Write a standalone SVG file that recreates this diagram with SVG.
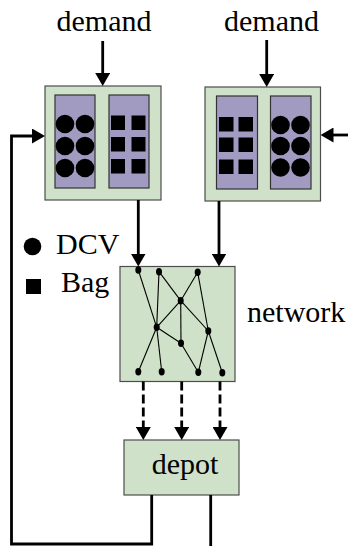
<svg xmlns="http://www.w3.org/2000/svg" width="348" height="546" viewBox="0 0 348 546">
<defs>
<marker id="ah" viewBox="0 0 13 15" refX="6" refY="7.5" markerWidth="13" markerHeight="15" markerUnits="userSpaceOnUse" orient="auto">
<path d="M0,0 L13,7.5 L0,15 z" fill="#000"/>
</marker>
</defs>
<style>
.box{fill:#d0e1c9;stroke:#4d4d4d;stroke-width:1.2}
.bin{fill:#a29bc1;stroke:#333;stroke-width:1.2}
.conn{fill:none;stroke:#000;stroke-width:2.8}
.dash{fill:none;stroke:#000;stroke-width:2.8;stroke-dasharray:9 4}
.edge{stroke:#000;stroke-width:1.1}
.lbl{font-family:"Liberation Serif","Times New Roman",serif;font-size:30px;fill:#000}
</style>
<g id="warehouse-left">
<rect class="box" x="45" y="86" width="116" height="114"/>
<rect class="bin" x="55" y="95" width="40" height="93"/>
<rect class="bin" x="109" y="95" width="40" height="93"/>
<circle cx="65" cy="124" r="9.3"/><circle cx="85" cy="124" r="9.3"/>
<circle cx="65" cy="146" r="9.3"/><circle cx="85" cy="146" r="9.3"/>
<circle cx="65" cy="168" r="9.3"/><circle cx="85" cy="168" r="9.3"/>
<rect x="111" y="115.5" width="14" height="14.5"/><rect x="131.5" y="115.5" width="14" height="14.5"/>
<rect x="111" y="137" width="14" height="14.5"/><rect x="131.5" y="137" width="14" height="14.5"/>
<rect x="111" y="159" width="14" height="14.5"/><rect x="131.5" y="159" width="14" height="14.5"/>
</g>
<g id="warehouse-right">
<rect class="box" x="205" y="87" width="115.5" height="114"/>
<rect class="bin" x="216.5" y="96" width="41" height="93"/>
<rect class="bin" x="270.5" y="96" width="40.5" height="93"/>
<rect x="219" y="117" width="14.5" height="14.5"/><rect x="238.5" y="117" width="14.5" height="14.5"/>
<rect x="219" y="137.5" width="14.5" height="14.5"/><rect x="238.5" y="137.5" width="14.5" height="14.5"/>
<rect x="219" y="159.5" width="14.5" height="14.5"/><rect x="238.5" y="159.5" width="14.5" height="14.5"/>
<circle cx="280.5" cy="125" r="9.3"/><circle cx="300.5" cy="125" r="9.3"/>
<circle cx="280.5" cy="146" r="9.3"/><circle cx="300.5" cy="146" r="9.3"/>
<circle cx="280.5" cy="167.5" r="9.3"/><circle cx="300.5" cy="167.5" r="9.3"/>
</g>
<g id="demand-left"><text class="lbl" x="104" y="30.5" text-anchor="middle">demand</text></g>
<g id="demand-right"><text class="lbl" x="271.5" y="30.5" text-anchor="middle">demand</text></g>
<g id="legend">
<circle cx="32.5" cy="246.5" r="8.8"/>
<text class="lbl" x="56" y="254">DCV</text>
<rect x="26" y="279" width="15" height="15"/>
<text class="lbl" x="61" y="291.5">Bag</text>
</g>
<g id="network">
<rect class="box" x="120" y="266.5" width="115" height="115"/>
<g class="edge">
<line x1="138.3" y1="270" x2="156.7" y2="327.3"/>
<line x1="159" y1="271.7" x2="156.7" y2="327.3"/>
<line x1="156.7" y1="327.3" x2="161.7" y2="371.7"/>
<line x1="159" y1="271.7" x2="180.7" y2="300.7"/>
<line x1="197.7" y1="272.3" x2="180.7" y2="300.7"/>
<line x1="197.7" y1="272.3" x2="208.3" y2="331"/>
<line x1="180.7" y1="300.7" x2="156.7" y2="327.3"/>
<line x1="180.7" y1="300.7" x2="181" y2="343.3"/>
<line x1="180.7" y1="300.7" x2="208.3" y2="331"/>
<line x1="156.7" y1="327.3" x2="181" y2="343.3"/>
<line x1="156.7" y1="327.3" x2="138.3" y2="371.7"/>
<line x1="181" y1="343.3" x2="198.3" y2="372.3"/>
<line x1="208.3" y1="331" x2="198.3" y2="372.3"/>
<line x1="208.3" y1="331" x2="222.3" y2="372.7"/>
</g>
<g fill="#000">
<ellipse cx="138.3" cy="270" rx="3" ry="3.7"/>
<ellipse cx="159" cy="271.7" rx="3" ry="3.7"/>
<ellipse cx="197.7" cy="272.3" rx="3" ry="3.7"/>
<ellipse cx="180.7" cy="300.7" rx="3" ry="3.7"/>
<ellipse cx="156.7" cy="327.3" rx="3" ry="3.7"/>
<ellipse cx="208.3" cy="331" rx="3" ry="3.7"/>
<ellipse cx="181" cy="343.3" rx="3" ry="3.7"/>
<ellipse cx="138.3" cy="371.7" rx="3" ry="3.7"/>
<ellipse cx="161.7" cy="371.7" rx="3" ry="3.7"/>
<ellipse cx="198.3" cy="372.3" rx="3" ry="3.7"/>
<ellipse cx="222.3" cy="372.7" rx="3" ry="3.7"/>
</g>
<text class="lbl" x="247" y="321.5">network</text>
</g>
<g id="depot">
<rect class="box" x="124" y="440" width="115" height="55"/>
<text class="lbl" x="185" y="474" text-anchor="middle">depot</text>
</g>
<g id="connectors">
<line class="conn" x1="102.7" y1="41" x2="102.7" y2="79" marker-end="url(#ah)"/>
<line class="conn" x1="266.7" y1="40" x2="266.7" y2="80" marker-end="url(#ah)"/>
<line class="conn" x1="138.3" y1="200" x2="138.3" y2="259.5" marker-end="url(#ah)"/>
<line class="conn" x1="219" y1="201" x2="219" y2="259.5" marker-end="url(#ah)"/>
<line class="dash" x1="143.3" y1="381.5" x2="143.3" y2="433" marker-end="url(#ah)"/>
<line class="dash" x1="181.7" y1="381.5" x2="181.7" y2="433" marker-end="url(#ah)"/>
<line class="dash" x1="220" y1="381.5" x2="220" y2="433" marker-end="url(#ah)"/>
<path class="conn" d="M151.7,495 V544 H11.5 V136 H38" marker-end="url(#ah)"/>
<path class="conn" d="M210.7,495 V546"/>
<line class="conn" x1="348" y1="135" x2="327.5" y2="135" marker-end="url(#ah)"/>
</g>
</svg>
